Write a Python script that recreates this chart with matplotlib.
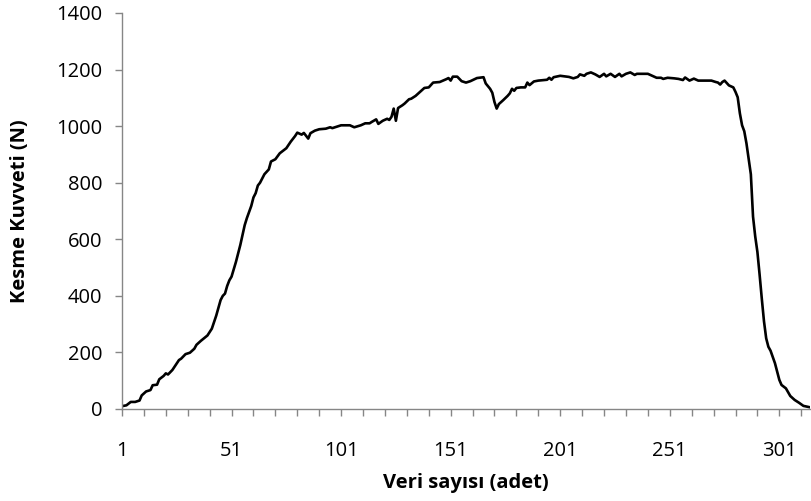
import matplotlib
matplotlib.use("Agg")
from matplotlib import pyplot as plt

# Veri noktalari (kategori numarasi, kesme kuvveti N)
veri_no = [1, 3, 5, 7, 9, 10, 12, 14, 15, 17, 18, 20, 21, 22, 24, 27, 28, 30, 32, 34,
           35, 37, 40, 42, 44, 46, 47, 48, 49, 50, 51, 53, 55, 57, 58, 60, 61, 62, 63, 64,
           66, 68, 69, 71, 73, 76, 78, 80, 81, 83, 84, 86, 87, 89, 91, 94, 96, 97, 101, 105,
           107, 110, 112, 114, 115, 117, 118, 120, 122, 123, 124, 125, 126, 127, 129, 130, 132, 133, 135, 137,
           139, 141, 143, 146, 149, 150, 151, 152, 154, 156, 158, 160, 163, 166, 167, 169, 170, 171, 172, 173,
           175, 177, 178, 179, 180, 181, 183, 185, 186, 187, 189, 191, 195, 196, 197, 198, 201, 205, 207, 209,
           210, 212, 213, 215, 217, 219, 221, 222, 224, 226, 228, 229, 231, 233, 235, 236, 241, 243, 245, 247,
           248, 250, 253, 255, 257, 258, 260, 262, 264, 270, 272, 273, 274, 275, 276, 278, 280, 281, 282, 283,
           284, 285, 286, 287, 288, 289, 290, 291, 292, 293, 294, 295, 296, 297, 299, 301, 302, 304, 306, 308,
           310, 312, 315]
kuvvet = [10, 13, 25, 25, 30, 48, 62, 67, 84, 86, 105, 117, 126, 122, 138, 173, 178, 194, 199, 213,
          227, 241, 260, 284, 330, 385, 400, 408, 435, 455, 468, 520, 580, 650, 675, 718, 748, 763, 790, 800,
          830, 847, 875, 883, 904, 922, 945, 965, 977, 970, 976, 956, 975, 984, 989, 991, 996, 993, 1003, 1003,
          996, 1003, 1010, 1010, 1015, 1024, 1008, 1019, 1026, 1022, 1033, 1062, 1019, 1064, 1074, 1080, 1095, 1097, 1107, 1121,
          1135, 1137, 1154, 1156, 1166, 1170, 1161, 1175, 1175, 1159, 1154, 1159, 1170, 1173, 1151, 1132, 1118, 1085, 1062, 1078,
          1092, 1107, 1116, 1132, 1125, 1135, 1137, 1137, 1154, 1145, 1158, 1161, 1164, 1171, 1164, 1173, 1178, 1174, 1169, 1174,
          1183, 1178, 1185, 1190, 1183, 1174, 1185, 1176, 1185, 1174, 1185, 1176, 1185, 1190, 1181, 1185, 1185, 1178, 1171, 1171,
          1167, 1171, 1169, 1167, 1163, 1172, 1161, 1168, 1161, 1161, 1156, 1154, 1147, 1156, 1161, 1144, 1137, 1121, 1102, 1045,
          1003, 982, 939, 885, 830, 680, 610, 555, 475, 390, 310, 250, 220, 206, 162, 103, 85, 73, 46, 32,
          22, 11, 6]

x_ticks = list(range(1, 316, 10))
x_labels = [str(t) if (t - 1) % 50 == 0 else '' for t in x_ticks]
y_ticks = list(range(0, 1401, 200))

plt.rcParams['font.family'] = ['Open Sans', 'DejaVu Sans']

fig = plt.figure(figsize=(8.11, 5.01), dpi=100)
ax = fig.add_axes([122/811, 92/501, 688/811, 396/501])

ax.plot(veri_no, kuvvet, color='black', lw=1.9, solid_joinstyle='round')

ax.set_xlim(1, 315)
ax.set_ylim(0, 1400)
ax.set_xticks(x_ticks)
ax.set_xticklabels(x_labels)
ax.set_yticks(y_ticks)

for s in ['top', 'right']:
    ax.spines[s].set_visible(False)
for s in ['left', 'bottom']:
    ax.spines[s].set_color('#868686')
    ax.spines[s].set_linewidth(1.0)

ax.tick_params(axis='x', direction='out', length=5, width=1.0, color='#868686', pad=18, labelsize=14.5)
ax.tick_params(axis='y', direction='out', length=5, width=1.0, color='#868686', pad=9, labelsize=14.5)

fig.text(466/811, 1 - 483/501, 'Veri sayısı (adet)', ha='center', va='center',
         fontsize=14.5, fontweight='bold')
fig.text(20/811, 1 - 211/501, 'Kesme Kuvveti (N)', ha='center', va='center',
         rotation=90, fontsize=14.5, fontweight='bold')

fig.savefig('out.png', dpi=100)
